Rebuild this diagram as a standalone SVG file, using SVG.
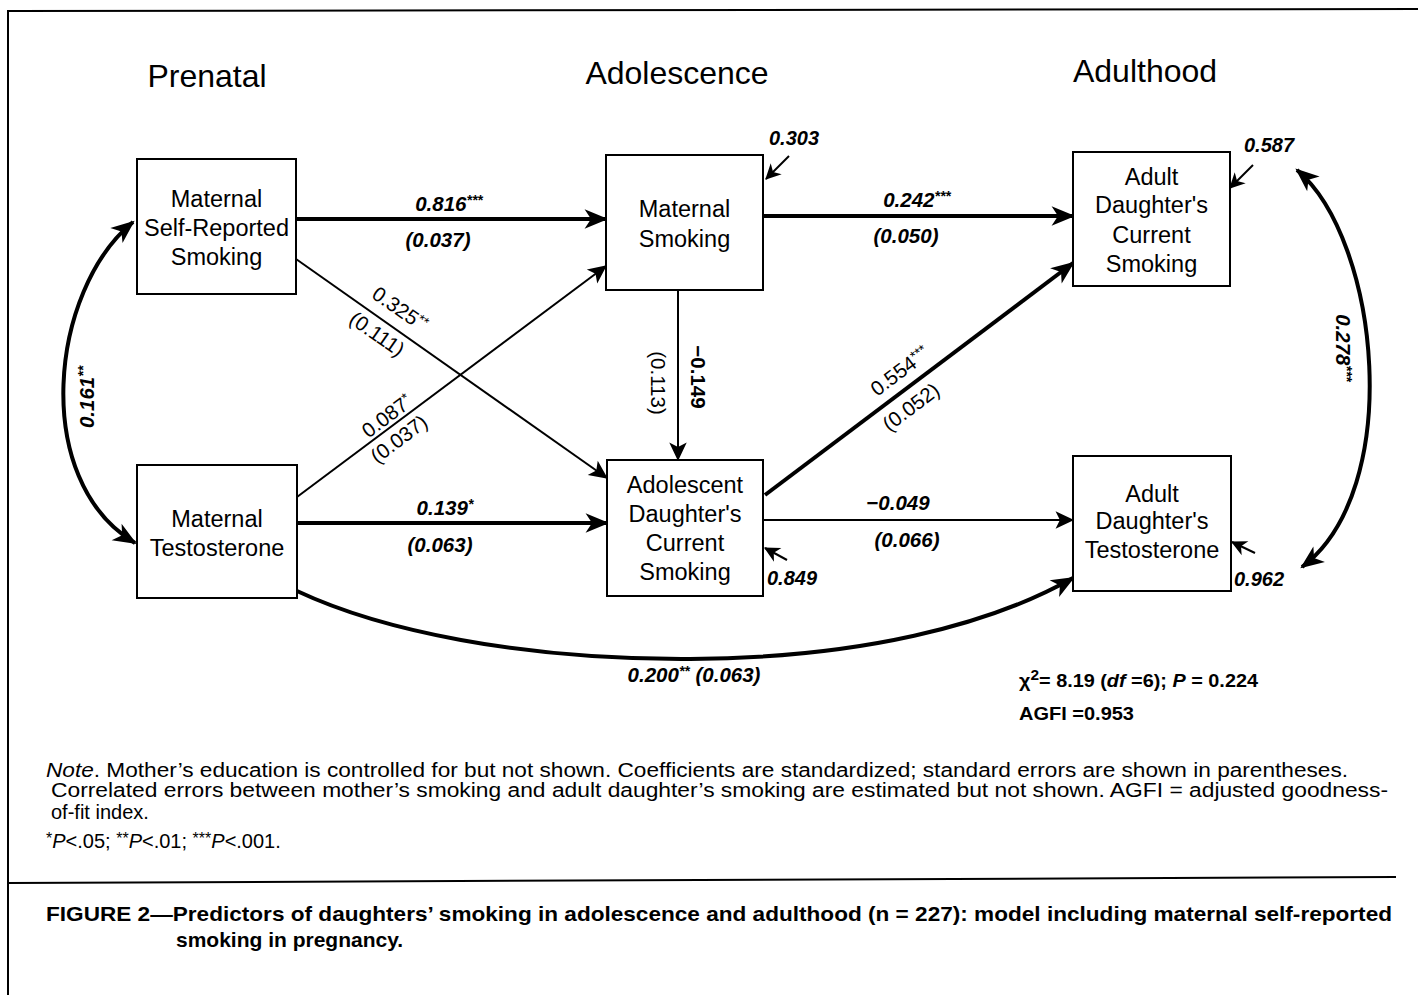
<svg xmlns="http://www.w3.org/2000/svg" width="1418" height="995" viewBox="0 0 1418 995">
<style>
text{font-family:"Liberation Sans",Arial,Helvetica,sans-serif;fill:#000}
.hdr{font-size:32px;text-anchor:middle}
.node rect{fill:#fff;stroke:#000;stroke-width:2}
.node text{font-size:23.5px;text-anchor:middle}
.coef{font-size:20.5px;font-weight:bold;font-style:italic;text-anchor:middle}
.diag{font-size:20.5px;text-anchor:middle}
.vert{font-size:20.5px;text-anchor:middle}
.res{font-size:20px;font-weight:bold;font-style:italic}
.sup{font-size:14px}
.thick{fill:none;stroke:#000;stroke-width:4}
.thin{fill:none;stroke:#000;stroke-width:2}
.note{font-size:20px}
.cap{font-size:21px;font-weight:bold}
.fit{font-size:18px;font-weight:bold}
</style>
<defs>
<marker id="ah" markerUnits="userSpaceOnUse" markerWidth="30" markerHeight="30" viewBox="-24 -12 28 24" refX="0" refY="0" orient="auto-start-reverse">
<path d="M2,0 L-20,-9 L-14,0 L-20,9 Z" fill="#000"/>
</marker>
<marker id="as" markerUnits="userSpaceOnUse" markerWidth="24" markerHeight="24" viewBox="-20 -10 22 20" refX="0" refY="0" orient="auto-start-reverse">
<path d="M1,0 L-16,-8 L-12,0 L-16,8 Z" fill="#000"/>
</marker>
<marker id="ar" markerUnits="userSpaceOnUse" markerWidth="20" markerHeight="20" viewBox="-16 -8 18 16" refX="0" refY="0" orient="auto">
<path d="M1,0 L-13,-7 L-9,0 L-13,7 Z" fill="#000"/>
</marker>
</defs>
<rect width="1418" height="995" fill="#fff"/>
<!-- frame -->
<g id="frame" fill="none" stroke="#000">
<path d="M8,995 L8,11 L1418,9" stroke-width="2"/>
<path d="M8,883 L1396,877" stroke-width="2"/>
</g>
<!-- headers -->
<g id="headers">
<text class="hdr" x="207" y="87">Prenatal</text>
<text class="hdr" x="677" y="84">Adolescence</text>
<text class="hdr" x="1145" y="82">Adulthood</text>
</g>
<!-- connectors -->
<g id="connectors">
<line class="thick" x1="296" y1="219" x2="606" y2="219" marker-end="url(#ah)"/>
<line class="thick" x1="763" y1="216" x2="1073" y2="216" marker-end="url(#ah)"/>
<line class="thin" x1="678" y1="290" x2="678" y2="460" marker-end="url(#as)"/>
<line class="thin" x1="296" y1="259" x2="607" y2="478" marker-end="url(#as)"/>
<line class="thin" x1="297" y1="497" x2="606" y2="266" marker-end="url(#as)"/>
<line class="thick" x1="297" y1="523" x2="607" y2="523" marker-end="url(#ah)"/>
<line class="thick" x1="765" y1="495" x2="1073" y2="263" marker-end="url(#ah)"/>
<line class="thin" x1="763" y1="520" x2="1073" y2="520" marker-end="url(#as)"/>
<path class="thick" d="M297,591 C380,630 520,660 690,659 C860,658 990,625 1073,578" marker-end="url(#ah)"/>
<path class="thick" d="M133,222 C50,290 30,480 135,543" marker-start="url(#ah)" marker-end="url(#ah)"/>
<path class="thick" d="M1297,170 C1380,240 1405,490 1302,567" marker-start="url(#ah)" marker-end="url(#ah)"/>
<line class="thin" x1="789" y1="156" x2="766" y2="179" marker-end="url(#ar)"/>
<line class="thin" x1="787" y1="560" x2="765" y2="548" marker-end="url(#ar)"/>
<line class="thin" x1="1253" y1="165" x2="1230" y2="188" marker-end="url(#ar)"/>
<line class="thin" x1="1255" y1="553" x2="1232" y2="542" marker-end="url(#ar)"/>
</g>
<!-- connector labels -->
<g id="labels">
<text class="coef" x="449" y="211">0.816<tspan class="sup" dy="-6">***</tspan></text>
<text class="coef" x="438" y="247">(0.037)</text>
<text class="coef" x="917" y="207">0.242<tspan class="sup" dy="-6">***</tspan></text>
<text class="coef" x="906" y="243">(0.050)</text>
<text class="coef" x="445" y="515">0.139<tspan class="sup" dy="-6">*</tspan></text>
<text class="coef" x="440" y="552">(0.063)</text>
<text class="coef" x="898" y="510">−0.049</text>
<text class="coef" x="907" y="547">(0.066)</text>
<text class="coef" x="694" y="682">0.200<tspan class="sup" dy="-6">**</tspan><tspan dy="6"> (0.063)</tspan></text>
<text class="diag" transform="translate(400,309) rotate(35)" y="7">0.325<tspan class="sup" dy="-6">**</tspan></text>
<text class="diag" transform="translate(377,334) rotate(35)" y="7">(0.111)</text>
<text class="diag" transform="translate(387,416) rotate(-37)" y="7">0.087<tspan class="sup" dy="-6">*</tspan></text>
<text class="diag" transform="translate(399,439) rotate(-37)" y="7">(0.037)</text>
<text class="diag" transform="translate(900,371) rotate(-37)" y="7">0.554<tspan class="sup" dy="-6">***</tspan></text>
<text class="diag" transform="translate(911,407) rotate(-37)" y="7">(0.052)</text>
<text class="vert" font-weight="bold" transform="translate(698,377) rotate(90)" y="7">−0.149</text>
<text class="vert" transform="translate(658,383) rotate(90)" y="7">(0.113)</text>
<text class="coef" transform="translate(87,397) rotate(-90)" y="7">0.161<tspan class="sup" dy="-6">**</tspan></text>
<text class="coef" transform="translate(1343,348) rotate(90)" y="7">0.278<tspan class="sup" dy="-6">***</tspan></text>
<text class="res" x="769" y="145">0.303</text>
<text class="res" x="767" y="585">0.849</text>
<text class="res" x="1244" y="152">0.587</text>
<text class="res" x="1234" y="586">0.962</text>
</g>
<!-- nodes -->
<g id="n-maternal-self-reported" class="node">
<rect x="137" y="159" width="159" height="135"/>
<text x="216.5" y="207">Maternal</text>
<text x="216.5" y="236">Self-Reported</text>
<text x="216.5" y="265">Smoking</text>
</g>
<g id="n-maternal-testosterone" class="node">
<rect x="137" y="465" width="160" height="133"/>
<text x="217" y="527">Maternal</text>
<text x="217" y="556">Testosterone</text>
</g>
<g id="n-maternal-smoking" class="node">
<rect x="606" y="155" width="157" height="135"/>
<text x="684.5" y="217">Maternal</text>
<text x="684.5" y="247">Smoking</text>
</g>
<g id="n-adolescent-smoking" class="node">
<rect x="607" y="460" width="156" height="136"/>
<text x="685" y="493">Adolescent</text>
<text x="685" y="522">Daughter's</text>
<text x="685" y="551">Current</text>
<text x="685" y="580">Smoking</text>
</g>
<g id="n-adult-smoking" class="node">
<rect x="1073" y="152" width="157" height="134"/>
<text x="1151.5" y="185">Adult</text>
<text x="1151.5" y="213">Daughter's</text>
<text x="1151.5" y="243">Current</text>
<text x="1151.5" y="272">Smoking</text>
</g>
<g id="n-adult-testosterone" class="node">
<rect x="1073" y="456" width="158" height="135"/>
<text x="1152" y="502">Adult</text>
<text x="1152" y="529">Daughter's</text>
<text x="1152" y="558">Testosterone</text>
</g>
<!-- fit statistics -->
<g id="fit">
<text class="fit" x="1019" y="687" textLength="239" lengthAdjust="spacingAndGlyphs">χ<tspan class="sup" dy="-7">2</tspan><tspan dy="7">= 8.19 (</tspan><tspan font-style="italic">df</tspan> =6); <tspan font-style="italic">P</tspan> = 0.224</text>
<text class="fit" x="1019" y="720" textLength="115" lengthAdjust="spacingAndGlyphs">AGFI =0.953</text>
</g>
<!-- notes -->
<g id="notes">
<text class="note" x="46" y="777" textLength="1302" lengthAdjust="spacingAndGlyphs"><tspan font-style="italic">Note</tspan>. Mother’s education is controlled for but not shown. Coefficients are standardized; standard errors are shown in parentheses.</text>
<text class="note" x="51" y="797" textLength="1337" lengthAdjust="spacingAndGlyphs">Correlated errors between mother’s smoking and adult daughter’s smoking are estimated but not shown. AGFI = adjusted goodness-</text>
<text class="note" x="51" y="819">of-fit index.</text>
<text class="note" x="46" y="848"><tspan font-size="16" dy="-4">*</tspan><tspan dy="4" font-style="italic">P</tspan>&lt;.05; <tspan font-size="16" dy="-4">**</tspan><tspan dy="4" font-style="italic">P</tspan>&lt;.01; <tspan font-size="16" dy="-4">***</tspan><tspan dy="4" font-style="italic">P</tspan>&lt;.001.</text>
<text class="cap" x="46" y="921" textLength="1346" lengthAdjust="spacingAndGlyphs">FIGURE 2—Predictors of daughters’ smoking in adolescence and adulthood (n = 227): model including maternal self-reported</text>
<text class="cap" x="176" y="947">smoking in pregnancy.</text>
</g>
</svg>
